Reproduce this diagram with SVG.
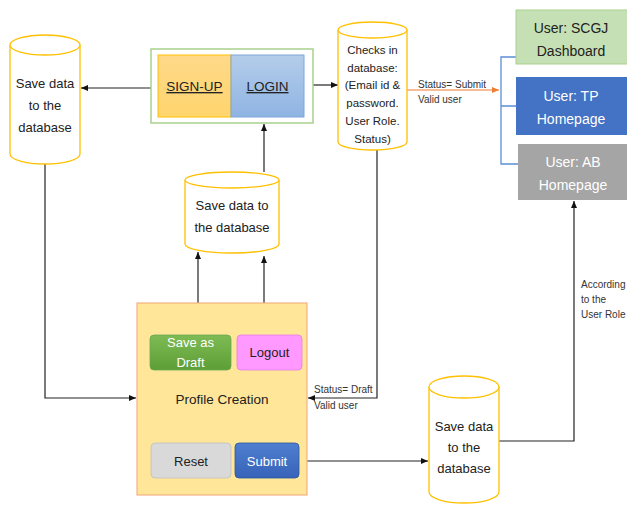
<svg xmlns="http://www.w3.org/2000/svg" width="627" height="505" viewBox="0 0 627 505">
<style>
text{font-family:"Liberation Sans",Arial,sans-serif;text-anchor:middle}
.cyl{fill:#fff;stroke:#FFC000;stroke-width:1.3}
.t{font-size:13px;fill:#222}
.s{font-size:10px;fill:#333;text-anchor:start}
.ln{fill:none;stroke:#222;stroke-width:1.2}
.bl{fill:none;stroke:#5B8FD6;stroke-width:1.3}
.w{fill:#fff}
</style>
<defs>
<marker id="ar" markerWidth="8" markerHeight="8" refX="7" refY="4" orient="auto" markerUnits="userSpaceOnUse"><path d="M0,1 L7,4 L0,7 Z" fill="#111"/></marker>
<marker id="ao" markerWidth="8" markerHeight="8" refX="7" refY="4" orient="auto" markerUnits="userSpaceOnUse"><path d="M0,1 L7,4 L0,7 Z" fill="#ED7D31"/></marker>
<linearGradient id="gg" x1="0" y1="0" x2="0" y2="1"><stop offset="0" stop-color="#7EBB55"/><stop offset="1" stop-color="#5E9E36"/></linearGradient>
<linearGradient id="gb" x1="0" y1="0" x2="0" y2="1"><stop offset="0" stop-color="#4F7FD0"/><stop offset="1" stop-color="#3763B8"/></linearGradient>
<linearGradient id="gl" x1="0" y1="0" x2="0" y2="1"><stop offset="0" stop-color="#B4CDEA"/><stop offset="1" stop-color="#8FB4E3"/></linearGradient>
<linearGradient id="gs" x1="0" y1="0" x2="0" y2="1"><stop offset="0" stop-color="#FFD98A"/><stop offset="1" stop-color="#FFD56E"/></linearGradient>
</defs>

<g id="connectors">
<line class="ln" x1="151" y1="88" x2="81" y2="88" marker-end="url(#ar)"/>
<line class="ln" x1="307" y1="85" x2="338" y2="85" marker-end="url(#ar)"/>
<line x1="407" y1="90" x2="499" y2="90" stroke="#ED7D31" stroke-width="1.2" marker-end="url(#ao)"/>
<path class="bl" d="M516,57 H501 V164 H518 M501,106 H516"/>
<polyline class="ln" points="45,163 45,398 136,398" marker-end="url(#ar)"/>
<line class="ln" x1="264" y1="172" x2="264" y2="124" marker-end="url(#ar)"/>
<line class="ln" x1="198" y1="335" x2="198" y2="252" marker-end="url(#ar)"/>
<line class="ln" x1="264" y1="335" x2="264" y2="256" marker-end="url(#ar)"/>
<polyline class="ln" points="377,150 377,398 308,398" marker-end="url(#ar)"/>
<line class="ln" x1="300" y1="461" x2="428" y2="461" marker-end="url(#ar)"/>
<polyline class="ln" points="499,441 574,441 574,201" marker-end="url(#ar)"/>
<text class="s" x="418" y="88">Status= Submit</text>
<text class="s" x="418" y="103">Valid user</text>
<text class="s" x="314" y="393">Status= Draft</text>
<text class="s" x="314" y="409">Valid user</text>
<text class="s" x="581" y="288">According</text>
<text class="s" x="581" y="303">to the</text>
<text class="s" x="581" y="318">User Role</text>
</g>

<g id="db-left">
<path class="cyl" d="M10,45 V154 A35,10 0 0 0 80,154 V45 A35,10 0 0 0 10,45 Z"/>
<path class="cyl" d="M10,45 A35,10 0 0 0 80,45"/>
<text class="t" x="45" y="88">Save data</text>
<text class="t" x="45" y="110">to the</text>
<text class="t" x="45" y="132">database</text>
</g>

<g id="auth">
<rect x="151" y="49" width="162" height="74" fill="#fff" stroke="#A9D18E" stroke-width="1.5"/>
<rect x="158" y="55" width="73" height="62" fill="url(#gs)" stroke="#FFC000" stroke-width="1"/>
<rect x="231" y="55" width="73" height="62" fill="url(#gl)" stroke="#7EA6D8" stroke-width="1"/>
<text x="194.5" y="91" font-size="13.5" fill="#222" text-decoration="underline">SIGN-UP</text>
<text x="267.5" y="91" font-size="13.5" fill="#222" text-decoration="underline">LOGIN</text>
</g>

<g id="db-check">
<path class="cyl" d="M338,30 V142 A34.5,8 0 0 0 407,142 V30 A34.5,8 0 0 0 338,30 Z"/>
<path class="cyl" d="M338,30 A34.5,8 0 0 0 407,30"/>
<g font-size="11.5" fill="#222">
<text x="372.5" y="54">Checks in</text>
<text x="372.5" y="72">database:</text>
<text x="372.5" y="89">(Email id &amp;</text>
<text x="372.5" y="107">password.</text>
<text x="372.5" y="125">User Role.</text>
<text x="372.5" y="143">Status)</text>
</g>
</g>

<g id="user-scgj">
<rect x="516" y="10" width="115" height="54" fill="#C5E0B4" stroke="#A9D18E"/>
<text x="571" y="33" font-size="14" fill="#222">User: SCGJ</text>
<text x="571" y="56" font-size="14" fill="#222">Dashboard</text>
</g>
<g id="user-tp">
<rect x="516" y="77" width="115" height="58" fill="#4472C4"/>
<text x="571" y="101" font-size="14" fill="#fff">User: TP</text>
<text x="571" y="124" font-size="14" fill="#fff">Homepage</text>
</g>
<g id="user-ab">
<rect x="518" y="144" width="113" height="56" fill="#A5A5A5"/>
<text x="573" y="167" font-size="14" fill="#fff">User: AB</text>
<text x="573" y="190" font-size="14" fill="#fff">Homepage</text>
</g>

<g id="db-middle">
<path class="cyl" d="M185,180 V244 A47,9 0 0 0 279,244 V180 A47,8 0 0 0 185,180 Z"/>
<path class="cyl" d="M185,180 A47,8 0 0 0 279,180"/>
<text class="t" x="232" y="210">Save data to</text>
<text class="t" x="232" y="232">the database</text>
</g>

<g id="profile">
<rect x="137" y="303" width="170" height="192" fill="#FFE699" stroke="#F4B183" stroke-width="1.2"/>
<text x="222" y="404" font-size="13.5" fill="#222">Profile Creation</text>
<rect x="150" y="335" width="81" height="35" rx="4" fill="url(#gg)" stroke="#6AA84F" stroke-width="0.8"/>
<text x="190.5" y="347" font-size="13" fill="#fff">Save as</text>
<text x="190.5" y="367" font-size="13" fill="#fff">Draft</text>
<rect x="237" y="335" width="65" height="35" rx="4" fill="#FF99FF" stroke="#E57EE5" stroke-width="0.8"/>
<text x="269.5" y="357" font-size="13" fill="#222">Logout</text>
<rect x="151" y="443" width="80" height="35" rx="4" fill="#D9D9D9" stroke="#BFBFBF" stroke-width="0.8"/>
<text x="191" y="466" font-size="13" fill="#222">Reset</text>
<rect x="235" y="443" width="64" height="35" rx="4" fill="url(#gb)" stroke="#2F5597" stroke-width="0.8"/>
<text x="267" y="466" font-size="13" fill="#fff">Submit</text>
</g>

<g id="db-bottom">
<path class="cyl" d="M429,387 V492 A35,11 0 0 0 499,492 V387 A35,11 0 0 0 429,387 Z"/>
<path class="cyl" d="M429,387 A35,11 0 0 0 499,387"/>
<text class="t" x="464" y="431">Save data</text>
<text class="t" x="464" y="452">to the</text>
<text class="t" x="464" y="473">database</text>
</g>
</svg>
